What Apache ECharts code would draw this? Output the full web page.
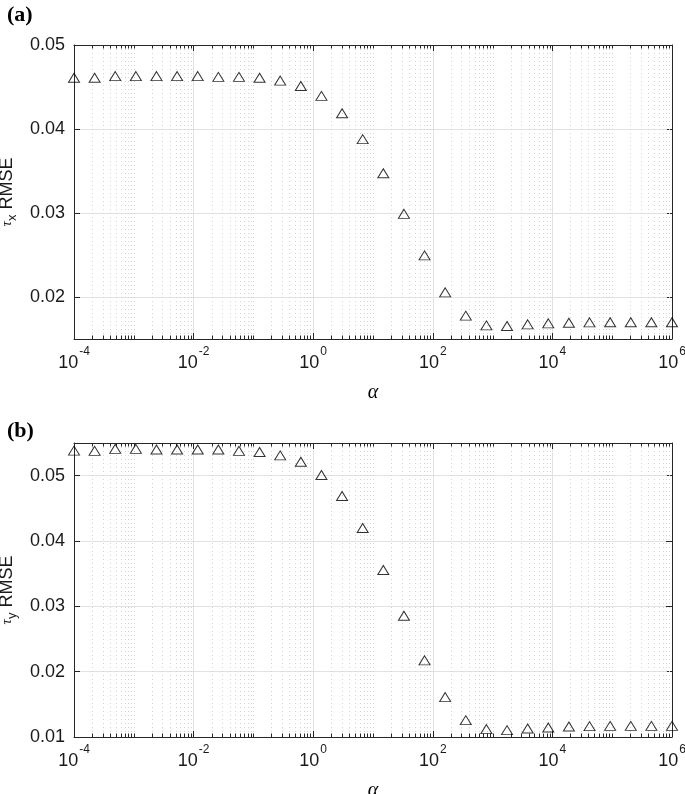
<!DOCTYPE html>
<html>
<head>
<meta charset="utf-8">
<script src="https://cdn.jsdelivr.net/npm/echarts@6/dist/echarts.min.js"></script>
<style>
html,body{margin:0;padding:0;background:#fff;}
#c{width:685px;height:794px;}
</style>
</head>
<body>
<div id="c"></div>
<script>
// alpha values (x)
const alpha = [1e-4, 2.212e-4, 4.894e-4, 1.0826e-3, 2.395e-3, 5.298e-3, 1.1721e-2, 2.593e-2, 5.736e-2, 0.1269,
  0.2807, 0.6210, 1.3738, 3.0392, 6.7234, 14.874, 32.903, 72.790, 161.03, 356.24,
  788.05, 1743.3, 3856.6, 8531.7, 18874, 41753, 92367, 204336, 452035, 1e6];
// panel (a): tau_x RMSE
const rmseTauX = [0.0461, 0.0461, 0.0463, 0.0463, 0.0463, 0.0463, 0.0463, 0.0462, 0.0462, 0.0461,
  0.04576, 0.04512, 0.04394, 0.04188, 0.03879, 0.03474, 0.0299, 0.02495, 0.02055, 0.01778,
  0.01662, 0.01655, 0.01674, 0.01686, 0.01694, 0.01698, 0.0170, 0.0170, 0.0170, 0.0170];
// panel (b): tau_y RMSE
const rmseTauY = [0.05383, 0.0538, 0.0541, 0.0541, 0.0540, 0.0540, 0.0540, 0.0540, 0.0538, 0.05363,
  0.0531, 0.05214, 0.0501, 0.04689, 0.04199, 0.03556, 0.02856, 0.02173, 0.01611, 0.01258,
  0.01121, 0.01105, 0.01131, 0.01146, 0.0116, 0.01166, 0.0117, 0.0117, 0.0117, 0.0117];
const panelLabels = ['(a)', '(b)'];
const yNames = ['x', 'y'];
const yRanges = [[0.015, 0.05], [0.01, 0.055]];

// minor log ticks (axis structure): 2..9 x 10^k, plus odd decades
const minorTicks = [];
for (let k = -4; k <= 5; k++) {
  for (let m = 1; m <= 9; m++) {
    if (m === 1 && (k % 2 === 0)) continue;
    minorTicks.push(m * Math.pow(10, k));
  }
}

const FONT = "'Liberation Sans', Arial, sans-serif";
const SERIF = "'Liberation Serif', 'Times New Roman', serif";
const AX = '#262626';
const GRID_MAJOR = '#e2e2e2';
const GRID_MINOR = '#d4d4d4';

const grids = [
  {left: 74, right: 13, top: 45, height: 294, containLabel: false, outerBoundsMode: 'none'},
  {left: 74, right: 13, top: 443, height: 294, containLabel: false, outerBoundsMode: 'none'}
];

const xAxes = [], yAxes = [], series = [];
[0, 1].forEach(p => {
  const yr = yRanges[p];
  // bottom x
  xAxes.push({
    gridIndex: p, type: 'log', logBase: 10, min: 1e-4, max: 1e6, interval: 2,
    position: 'bottom',
    name: 'α', nameLocation: 'middle', nameGap: 44,
    nameTextStyle: {fontFamily: SERIF, fontStyle: 'italic', fontSize: 20, color: '#000'},
    axisLine: {show: true, lineStyle: {color: AX, width: 1}},
    axisTick: {show: true, inside: true, length: 6, lineStyle: {color: AX}},
    axisLabel: {
      margin: 7, color: '#1a1a1a',
      formatter: v => '{b|10}{s|' + Math.round(Math.log10(v)) + '}',
      rich: {
        b: {fontFamily: FONT, fontSize: 18, color: '#1a1a1a', lineHeight: 26, verticalAlign: 'bottom'},
        s: {fontFamily: FONT, fontSize: 12, color: '#1a1a1a', lineHeight: 26, verticalAlign: 'top', padding: [0, 0, 0, 1]}
      }
    },
    splitLine: {show: true, lineStyle: {color: GRID_MAJOR, width: 1}}
  });
  // top x
  xAxes.push({
    gridIndex: p, type: 'log', logBase: 10, min: 1e-4, max: 1e6, interval: 2,
    position: 'top',
    axisLine: {show: true, lineStyle: {color: AX, width: 1}},
    axisTick: {show: true, inside: true, length: 6, lineStyle: {color: AX}},
    axisLabel: {show: false},
    splitLine: {show: false}
  });
  const yCommon = p === 0
    ? {min: yr[0], max: yr[1], splitNumber: 4}
    : {min: yr[0], max: yr[1], interval: 0.01};
  yAxes.push(Object.assign({
    gridIndex: p, type: 'value', position: 'left',
    name: '{t|τ}{s|' + yNames[p] + '}{r| RMSE}',
    nameLocation: 'middle', nameRotate: 90, nameGap: 53,
    nameTextStyle: {
      rich: {
        t: {fontFamily: SERIF, fontStyle: 'italic', fontSize: 15, color: '#1a1a1a', lineHeight: 24, verticalAlign: 'middle'},
        s: {fontFamily: FONT, fontSize: 13, color: '#1a1a1a', lineHeight: 24, verticalAlign: 'bottom'},
        r: {fontFamily: FONT, fontSize: 18, color: '#1a1a1a', lineHeight: 24, verticalAlign: 'middle'}
      }
    },
    axisLine: {show: true, lineStyle: {color: AX, width: 1}},
    axisTick: {show: true, inside: true, length: 6, lineStyle: {color: AX}},
    axisLabel: {
      margin: 9, fontFamily: FONT, fontSize: 18, color: '#1a1a1a',
      showMinLabel: p === 1, showMaxLabel: p === 0,
      formatter: v => v.toFixed(2)
    },
    splitLine: {show: true, lineStyle: {color: GRID_MAJOR, width: 1}}
  }, yCommon));
  yAxes.push(Object.assign({
    gridIndex: p, type: 'value', position: 'right',
    axisLine: {show: true, lineStyle: {color: AX, width: 1}},
    axisTick: {show: true, inside: true, length: 6, lineStyle: {color: AX}},
    axisLabel: {show: false},
    splitLine: {show: false}
  }, yCommon));

  // minor grid + minor ticks
  series.push({
    type: 'custom', xAxisIndex: p * 2, yAxisIndex: p * 2, silent: true, z: 1,
    data: minorTicks.map(v => [v, yr[0]]),
    renderItem: (params, api) => {
      const cs = params.coordSys;
      const x = Math.round(api.coord([api.value(0), yr[0]])[0]) + 0.5;
      const top = cs.y, bot = cs.y + cs.height;
      return {
        type: 'group',
        children: [
          {type: 'line', shape: {x1: x, y1: top, x2: x, y2: bot},
           style: {stroke: GRID_MINOR, lineWidth: 1, lineDash: [1, 3]}},
          {type: 'line', shape: {x1: x, y1: bot, x2: x, y2: bot - 3.5},
           style: {stroke: AX, lineWidth: 1}},
          {type: 'line', shape: {x1: x, y1: top, x2: x, y2: top + 3.5},
           style: {stroke: AX, lineWidth: 1}}
        ]
      };
    }
  });
  const ys = p === 0 ? rmseTauX : rmseTauY;
  series.push({
    type: 'scatter', xAxisIndex: p * 2, yAxisIndex: p * 2, z: 5,
    symbol: 'triangle', symbolSize: [11, 9],
    itemStyle: {color: 'rgba(0,0,0,0)', borderColor: '#000', borderWidth: 1},
    data: alpha.map((a, i) => [a, ys[i]])
  });
});

const chart = echarts.init(document.getElementById('c'), null, {renderer: 'canvas'});
chart.setOption({
  animation: false,
  backgroundColor: '#fff',
  grid: grids,
  xAxis: xAxes,
  yAxis: yAxes,
  series: series,
  graphic: [
    {type: 'text', left: 7, top: 4, style: {text: panelLabels[0], font: "bold 22px 'Liberation Serif', serif", fill: '#000'}},
    {type: 'text', left: 7, top: 420, style: {text: panelLabels[1], font: "bold 22px 'Liberation Serif', serif", fill: '#000'}}
  ]
});
</script>
</body>
</html>
